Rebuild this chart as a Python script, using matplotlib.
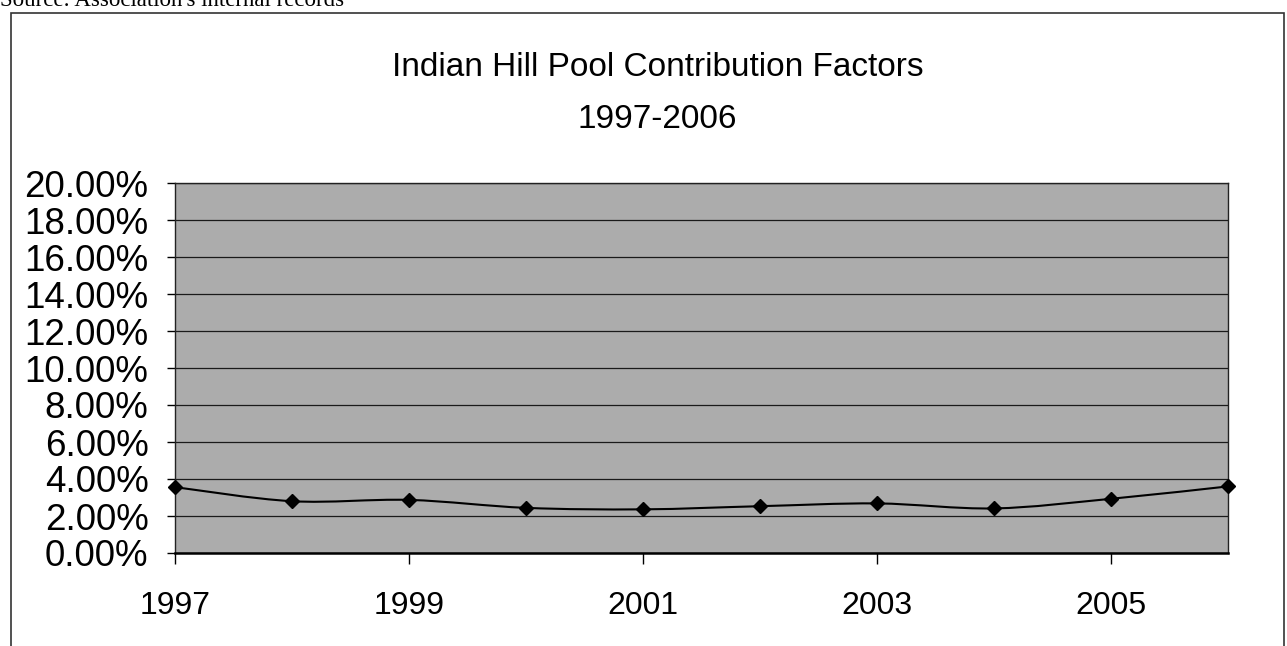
import matplotlib
matplotlib.use("Agg")
import matplotlib.pyplot as plt
from matplotlib.path import Path
from matplotlib.patches import PathPatch, Rectangle
from matplotlib.ticker import FuncFormatter, MultipleLocator
import numpy as np

years = [1997, 1998, 1999, 2000, 2001, 2002, 2003, 2004, 2005, 2006]
factors = [3.56, 2.80, 2.87, 2.44, 2.36, 2.53, 2.68, 2.41, 2.93, 3.60]  # percent
x_ticks = [1997, 1999, 2001, 2003, 2005]
title_lines = ["Indian Hill Pool Contribution Factors", "1997-2006"]
source = "Source: Association's internal records"

plt.rcParams['font.family'] = ['Liberation Sans', 'DejaVu Sans']

fig = plt.figure(figsize=(12.87, 6.46), dpi=100)
fig.patch.set_facecolor('white')

# outer chart frame and the source note above it
fig.patches.append(Rectangle((11 / 1287, -0.05), 1273 / 1287, 1.05 - 13 / 646,
                             transform=fig.transFigure, fill=False,
                             edgecolor='#333333', linewidth=1.2))
fig.text(0.0, 1 - 11 / 646, source, family='Liberation Serif', fontsize=16.5,
         ha='left', va='bottom')

fig.text(0.511, 1 - 67 / 646, title_lines[0], ha='center', va='center', fontsize=24)
fig.text(0.511, 1 - 119 / 646, title_lines[1], ha='center', va='center', fontsize=24)

ax = fig.add_axes([175 / 1287, 1 - 553 / 646, 1053 / 1287, 370 / 646])
ax.set_facecolor('#acacac')
ax.set_xlim(years[0], years[-1])
ax.set_ylim(0, 20)
ax.yaxis.set_major_locator(MultipleLocator(2))
ax.yaxis.set_major_formatter(FuncFormatter(lambda v, p: '{:.2f}%'.format(v)))
ax.set_xticks(x_ticks)
ax.set_xticklabels([str(y) for y in x_ticks])
ax.grid(axis='y', color='#1a1a1a', linewidth=0.9)
ax.set_axisbelow(True)
ax.tick_params(axis='y', direction='out', length=6, width=1, labelsize=26.5, pad=13)
ax.tick_params(axis='x', direction='out', length=8, width=1, labelsize=23, pad=19)
for side in ['left', 'right', 'top']:
    ax.spines[side].set_color('#222222')
    ax.spines[side].set_linewidth(1.0)
ax.spines['bottom'].set_linewidth(1.8)

# smoothed line through the points (Catmull-Rom as cubic Beziers)
px = np.array(years, dtype=float)
py = np.array(factors, dtype=float)
n = len(px)
verts = [(px[0], py[0])]
codes = [Path.MOVETO]
for i in range(n - 1):
    i0 = max(i - 1, 0)
    i3 = min(i + 2, n - 1)
    c1 = (px[i] + (px[i + 1] - px[i0]) / 6, py[i] + (py[i + 1] - py[i0]) / 6)
    c2 = (px[i + 1] - (px[i3] - px[i]) / 6, py[i + 1] - (py[i3] - py[i]) / 6)
    verts += [c1, c2, (px[i + 1], py[i + 1])]
    codes += [Path.CURVE4] * 3
ax.add_patch(PathPatch(Path(verts, codes), facecolor='none', edgecolor='black',
                       linewidth=1.5, clip_on=False, zorder=3))
ax.plot(years, factors, linestyle='none', marker='D', markersize=7,
        color='black', clip_on=False, zorder=4)

fig.savefig('out.png', dpi=100)
